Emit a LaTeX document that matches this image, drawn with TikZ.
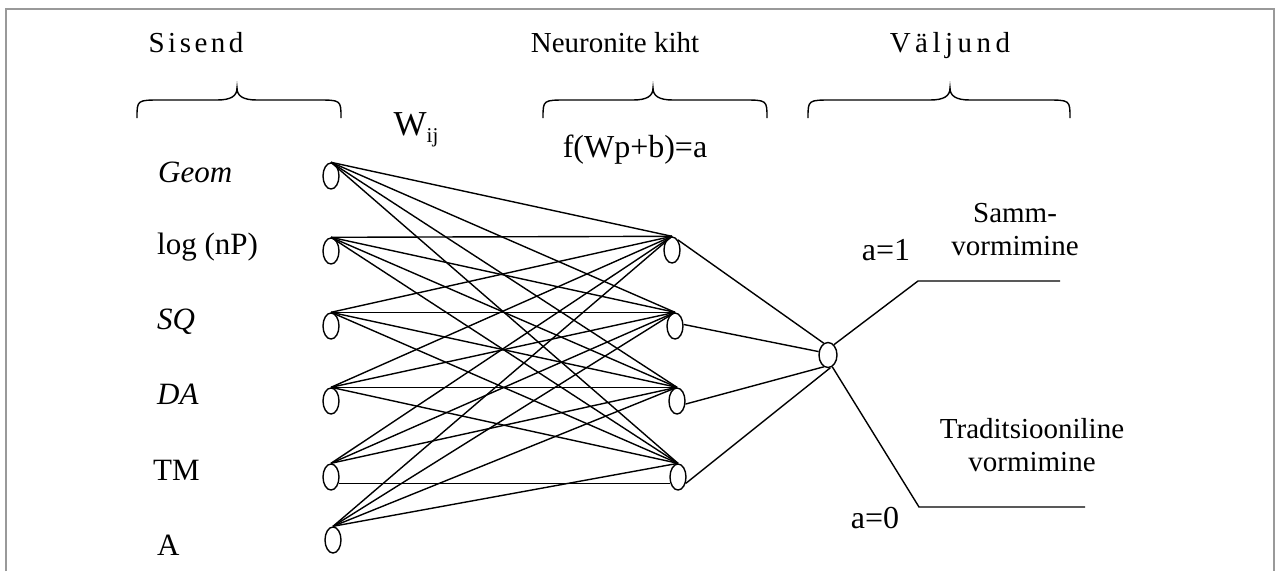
\documentclass[tikz,border=0pt]{standalone}
\usepackage{fontspec}
\setmainfont{Liberation Serif}
\usetikzlibrary{shapes.geometric}
\newcommand{\mybrace}[3]{%
  \draw[bracestyle] (#1,118) .. controls (#1,100) .. ({#1+24},100) -- ({#2-20},100)
    .. controls ({#2-6},100) and (#2,96) .. (#2,88)
    .. controls (#2,96) and ({#2+6},100) .. ({#2+20},100) -- ({#3-24},100)
    .. controls (#3,100) .. (#3,118);}
\begin{document}
\begin{tikzpicture}[x=1pt,y=-1pt,
  neuron/.style={draw, ellipse, minimum width=16pt, minimum height=26pt, inner sep=0pt, line width=1.4pt},
  link/.style={line width=1.4pt},
  lbl/.style={font=\fontsize{29}{33}\selectfont, inner sep=0pt},
  inlbl/.style={font=\fontsize{31}{35}\selectfont, inner sep=0pt, anchor=west},
  biglbl/.style={font=\fontsize{32}{36}\selectfont, inner sep=0pt},
  framestyle/.style={draw=black!40, line width=2pt},
  bracestyle/.style={line width=1.4pt}]
\useasboundingbox (0,0) rectangle (1276,571);
\draw[framestyle] (6,571) -- (6,9) -- (1274,9) -- (1274,571);

% braces
\mybrace{137}{237}{341}
\mybrace{543}{653}{767}
\mybrace{808}{950}{1070}

% headers
\node[lbl, anchor=base] (hs) at (196,52) {S\kern3.5pt i\kern3.5pt s\kern3.5pt e\kern3.5pt n\kern3.5pt d};
\node[lbl, anchor=base] (hn) at (615,52) {Neuronite kiht};
\node[lbl, anchor=base] (hv) at (950,52) {V\kern4.5pt ä\kern4.5pt l\kern4.5pt j\kern4.5pt u\kern4.5pt n\kern4.5pt d};
\node[font=\fontsize{35}{38}\selectfont, inner sep=0pt] (w) at (416,130) {W\raisebox{-7pt}{\fontsize{21}{21}\selectfont ij}};
\node[biglbl] (f) at (635,150) {f(Wp+b)=a};

% input labels
\node[inlbl] (l1) at (158,172) {\textit{Geom}};
\node[inlbl] (l2) at (157,247) {log (nP)};
\node[inlbl] (l3) at (157,322) {\textit{SQ}};
\node[inlbl] (l4) at (157,394) {\textit{DA}};
\node[inlbl] (l5) at (153,470) {TM};
\node[inlbl] (l6) at (157,545) {A};

% neurons
\node[neuron] (i1) at (331,176) {};
\node[neuron] (i2) at (331,251) {};
\node[neuron] (i3) at (331,326) {};
\node[neuron] (i4) at (331,401) {};
\node[neuron] (i5) at (331,477) {};
\node[neuron] (i6) at (333,540) {};
\node[neuron] (h1) at (672,250) {};
\node[neuron] (h2) at (675,326) {};
\node[neuron] (h3) at (677,401) {};
\node[neuron] (h4) at (678,477) {};
\node[neuron, minimum width=18pt, minimum height=25pt] (o) at (828,355) {};

% input -> hidden
\foreach \i in {1,2,3,4,6} {
  \foreach \j in {1,2,3,4} {
    \draw[link] (i\i.north) -- (h\j.north);
  }
}
\foreach \j in {1,2,3} { \draw[link] (i5.north) -- (h\j.north); }
\draw[link] (i5.-40) -- (h4.-140);

% hidden -> output
\draw[link] (h1.60) -- (o.110);
\draw[link] (h2.10) -- (o.160);
\draw[link] (h3.-20) -- (o.-110);
\draw[link] (h4.-40) -- (o.-80);

% output lines
\coordinate (k1) at (918,281);
\coordinate (k1e) at (1060,281);
\coordinate (k2) at (919,507);
\coordinate (k2e) at (1085,507);
\draw[link] (o.60) -- (k1) -- (k1e);
\draw[link] (o.-70) -- (k2) -- (k2e);

% output labels
\node[biglbl] (a1) at (886,250) {a=1};
\node[biglbl] (a0) at (875,518) {a=0};
\node[lbl, align=center] (c1) at (1015,230) {Samm-\\vormimine};
\node[lbl, align=center] (c2) at (1032,445) {Traditsiooniline\\vormimine};
\end{tikzpicture}
\end{document}
